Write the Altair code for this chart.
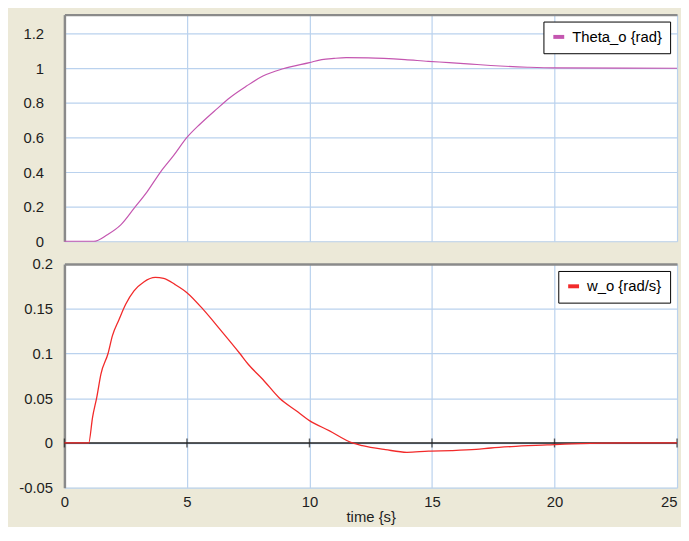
import altair as alt
import pandas as pd

# ---- data ----
t_theta = [0, 1.2, 1.75, 2.3, 2.84, 3.38, 3.92, 4.46, 5.0, 5.54, 6.21, 6.75, 7.43,
           8.1, 8.92, 10.0, 10.5, 11.0, 11.5, 12.4, 13.9, 14.85, 15.7, 16.6, 17.4,
           18.9, 20.0, 25.0]
theta = [0, 0, 0.038, 0.095, 0.19, 0.287, 0.40, 0.496, 0.60, 0.678, 0.764, 0.83, 0.897,
         0.955, 0.997, 1.033, 1.05, 1.057, 1.061, 1.06, 1.05, 1.04, 1.033, 1.024, 1.016,
         1.006, 1.002, 1.0]

t_w = [0, 0.99, 1.15, 1.32, 1.49, 1.78, 1.96, 2.23, 2.5, 2.84, 3.24, 3.71, 4.05, 4.52,
       5.0, 5.67, 6.35, 7.16, 7.5, 8.1, 8.78, 9.46, 10.0, 10.8, 11.75, 12.16, 13.1,
       13.98, 14.86, 15.8, 16.8, 17.4, 18.24, 19.7, 20.7, 22.96, 25.0]
w = [0, 0, 0.029, 0.051, 0.077, 0.100, 0.12, 0.138, 0.155, 0.170, 0.180, 0.185, 0.184,
     0.177, 0.168, 0.149, 0.127, 0.100, 0.088, 0.071, 0.050, 0.036, 0.025, 0.0138, 0.0,
     -0.003, -0.0074, -0.0104, -0.009, -0.0085, -0.0072, -0.0056, -0.004, -0.0022,
     -0.001, 0, 0]

x_ticks = [0, 5, 10, 15, 20, 25]
theta_ticks = [0, 0.2, 0.4, 0.6, 0.8, 1, 1.2]
w_ticks = [-0.05, 0, 0.05, 0.1, 0.15, 0.2]

theta_name = "Theta_o {rad}"
w_name = "w_o {rad/s}"

df_theta = pd.DataFrame({"t": t_theta, "v": theta, "series": theta_name})
df_w = pd.DataFrame({"t": t_w, "v": w, "series": w_name})
df_zero = pd.DataFrame({"v": [0]})
df_ticks = pd.DataFrame({"t": x_ticks, "v": [0] * len(x_ticks)})
df_border = pd.DataFrame({"t": [0]})

FONT = "Liberation Sans"
GRID = "#BAD2EE"
BORDER = "#8A8A8A"
W = 619
xscale = alt.Scale(domain=[0, 25], nice=False, zero=False)
wscale = alt.Scale(domain=[-0.05, 0.2], nice=False, zero=False)


def legend():
    return alt.Legend(title=None, orient="top-right", offset=7, fillColor="white",
                      strokeColor="black", padding=8, symbolType="stroke",
                      symbolSize=121, symbolStrokeWidth=4, labelFontSize=15,
                      labelFont=FONT, labelColor="black", labelOffset=6)


def border_layer():
    return alt.Chart(df_border).mark_rule(opacity=0).encode(
        x=alt.X("t:Q", scale=xscale,
                axis=alt.Axis(orient="top", labels=False, ticks=False, grid=False,
                              domainColor=BORDER, domainWidth=2.5, title=None))
    )


# ---- top panel ----
theta_line = alt.Chart(df_theta).mark_line(strokeWidth=1.2, interpolate="monotone").encode(
    x=alt.X("t:Q", scale=xscale,
            axis=alt.Axis(values=x_ticks, labels=False, ticks=False, domain=False,
                          grid=True, gridColor=GRID, gridWidth=1.2, title=None)),
    y=alt.Y("v:Q", scale=alt.Scale(domain=[0, 1.31], nice=False),
            axis=alt.Axis(values=theta_ticks, labelExpr="'' + datum.value",
                          ticks=False, labelPadding=21, grid=True, gridColor=GRID,
                          gridWidth=1.2, domainColor=BORDER, domainWidth=2.5,
                          title=None)),
    color=alt.Color("series:N", scale=alt.Scale(domain=[theta_name], range=["#C456B0"]),
                    legend=legend()),
)

top = alt.layer(theta_line, border_layer()).resolve_axis(x="independent").properties(
    width=W, height=229)

# ---- bottom panel ----
x_axis_b = alt.Axis(values=x_ticks, labelExpr="'' + datum.value", ticks=False,
                    domain=False, labelPadding=7, grid=True, gridColor=GRID,
                    gridWidth=1.2, title="time {s}", titlePadding=0,
                    labelAlign={"condition": {"test": "datum.value === 25",
                                              "value": "right"},
                                "value": "center"})
y_axis_b = alt.Axis(values=w_ticks, labelExpr="'' + datum.value", ticks=False,
                    labelPadding=12, grid=True, gridColor=GRID, gridWidth=1.2,
                    domainColor=BORDER, domainWidth=2.5, title=None)

zero_rule = alt.Chart(df_zero).mark_rule(color="#202020", strokeWidth=1.4).encode(
    y=alt.Y("v:Q", scale=wscale, axis=y_axis_b)
)
zero_ticks = alt.Chart(df_ticks).mark_tick(orient="vertical", size=9, thickness=1.4,
                                           color="#202020").encode(
    x=alt.X("t:Q", scale=xscale, axis=x_axis_b),
    y=alt.Y("v:Q", scale=wscale, axis=y_axis_b),
)
w_line = alt.Chart(df_w).mark_line(strokeWidth=1.3, interpolate="monotone").encode(
    x=alt.X("t:Q", scale=xscale, axis=x_axis_b),
    y=alt.Y("v:Q", scale=wscale, axis=y_axis_b),
    color=alt.Color("series:N", scale=alt.Scale(domain=[w_name], range=["#F22A2A"]),
                    legend=legend()),
)

bottom = alt.layer(alt.layer(zero_rule, zero_ticks, w_line),
                   border_layer()).resolve_axis(x="independent").properties(
    width=W, height=226)

chart = alt.vconcat(top, bottom, spacing=8).resolve_scale(
    color="independent"
).properties(
    background="#ECE9D8",
    padding={"left": 10, "top": 4, "right": 1, "bottom": 0},
).configure_view(
    fill="white", stroke=None
).configure_axis(
    labelFont=FONT, labelFontSize=15, labelColor="#1E1E1E",
    titleFont=FONT, titleFontSize=15, titleFontWeight="normal", titleColor="#1E1E1E",
)

chart.save("out.html", embed_options={"renderer": "svg", "actions": False})
